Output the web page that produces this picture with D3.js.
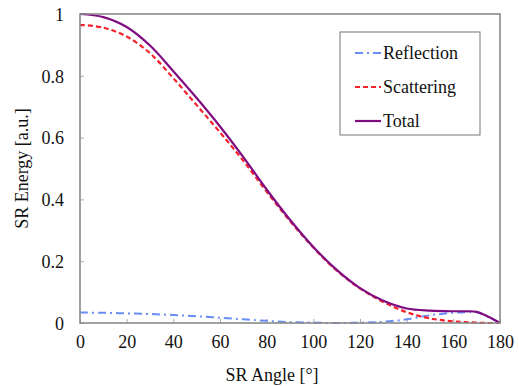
<!DOCTYPE html>
<html lang="en">
<head>
<meta charset="UTF-8">
<title>SR Energy vs SR Angle</title>
<script src="https://d3js.org/d3.v7.min.js"></script>
<style>
  body { margin: 0; background: #fff; }
</style>
</head>
<body>
<svg id="chart" width="519" height="386"></svg>
<script>
const FONT = "'Liberation Serif', 'DejaVu Serif', 'Times New Roman', Times, serif";

// angles (deg) the curves are sampled at
const angles = [0, 10, 20, 30, 40, 50, 60, 70, 80, 90, 100, 110, 120, 130, 140, 150, 160, 165, 170, 175, 180];

const reflection = [0.034, 0.033, 0.031, 0.029, 0.026, 0.022, 0.017, 0.012, 0.007, 0.003, 0.001, 0.0, 0.001, 0.004, 0.012, 0.025, 0.033, 0.035, 0.035, 0.02, 0.0];
const scattering = [0.965, 0.956, 0.927, 0.873, 0.792, 0.705, 0.617, 0.525, 0.425, 0.33, 0.244, 0.17, 0.112, 0.068, 0.035, 0.015, 0.005, 0.003, 0.001, 0.0, 0.0];
const total      = [1.0, 0.99, 0.958, 0.898, 0.815, 0.728, 0.636, 0.537, 0.432, 0.334, 0.246, 0.172, 0.113, 0.072, 0.047, 0.04, 0.038, 0.038, 0.036, 0.02, 0.0];

const xTicks = [0, 20, 40, 60, 80, 100, 120, 140, 160, 180];
const yTicks = [0, 0.2, 0.4, 0.6, 0.8, 1];

const series = [
  { name: "Reflection", values: reflection, color: "#6a8cf5", dash: "8,4,2,4", width: 2 },
  { name: "Scattering", values: scattering, color: "#f5222d", dash: "5,3", width: 2.2 },
  { name: "Total", values: total, color: "#800c82", dash: null, width: 2.2 }
];

const margin = { top: 14, right: 19, bottom: 63, left: 80 };
const width = 519, height = 386;

const svg = d3.select("#chart").attr("font-family", FONT);

const x = d3.scaleLinear().domain([0, 180]).range([margin.left, width - margin.right]);
const y = d3.scaleLinear().domain([0, 1]).range([height - margin.bottom, margin.top]);

// tick marks (inside) + labels
const xAxis = d3.axisBottom(x).tickValues(xTicks).tickSize(-4).tickPadding(12).tickFormat(d3.format("d"));
const yAxis = d3.axisLeft(y).tickValues(yTicks).tickSize(-4).tickPadding(16).tickFormat(d => d === 0 || d === 1 ? d : d3.format(".1f")(d));

const gx = svg.append("g")
  .attr("transform", `translate(0,${height - margin.bottom})`)
  .call(xAxis);
const gy = svg.append("g")
  .attr("transform", `translate(${margin.left},0)`)
  .call(yAxis);

[gx, gy].forEach(g => {
  g.attr("font-family", FONT).attr("font-size", 18);
  g.select(".domain").remove();
  g.selectAll(".tick line").attr("stroke", "#aaa").attr("stroke-width", 1);
  g.selectAll(".tick text").attr("fill", "#111").style("font-family", FONT);
});
gy.selectAll(".tick text").attr("dy", "0.35em");

// lines
const line = d3.line()
  .x((d, i) => x(angles[i]))
  .y(d => y(d))
  .curve(d3.curveCatmullRom.alpha(0.5));

series.forEach(s => {
  svg.append("path")
    .datum(s.values)
    .attr("fill", "none")
    .attr("stroke", s.color)
    .attr("stroke-width", s.width)
    .attr("stroke-dasharray", s.dash)
    .attr("d", line);
});

// plot frame
svg.append("rect")
  .attr("x", x(0))
  .attr("y", y(1))
  .attr("width", x(180) - x(0))
  .attr("height", y(0) - y(1))
  .attr("fill", "none")
  .attr("stroke", "#8a8a8a")
  .attr("stroke-width", 1.6);

// axis titles
svg.append("text")
  .attr("x", 272)
  .attr("y", 381)
  .attr("text-anchor", "middle")
  .style("font-family", FONT)
  .style("font-size", "18px")
  .attr("fill", "#111")
  .text("SR Angle [°]");

svg.append("text")
  .attr("transform", `translate(28,${(y(0) + y(1)) / 2}) rotate(-90)`)
  .attr("text-anchor", "middle")
  .style("font-family", FONT)
  .style("font-size", "18px")
  .attr("fill", "#111")
  .text("SR Energy [a.u.]");

// legend
const legend = svg.append("g");
legend.append("rect")
  .attr("x", 340).attr("y", 32)
  .attr("width", 140).attr("height", 103)
  .attr("fill", "#fff")
  .attr("stroke", "#777")
  .attr("stroke-width", 1);

series.forEach((s, i) => {
  const ly = 53 + i * 34;
  legend.append("line")
    .attr("x1", 355).attr("x2", 381)
    .attr("y1", ly).attr("y2", ly)
    .attr("stroke", s.color)
    .attr("stroke-width", s.width)
    .attr("stroke-dasharray", s.dash);
  legend.append("text")
    .attr("x", 383)
    .attr("y", ly)
    .attr("dy", "0.35em")
    .style("font-family", FONT)
    .style("font-size", "18px")
    .attr("fill", "#111")
    .text(s.name);
});
</script>
</body>
</html>
